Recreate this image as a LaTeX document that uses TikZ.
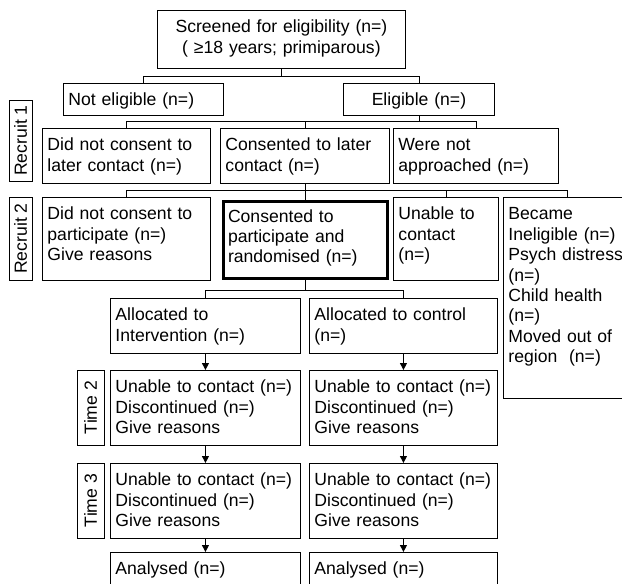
\documentclass[tikz,border=0pt]{standalone}
\usepackage{fontspec}
\setmainfont{Liberation Sans}
\usetikzlibrary{arrows.meta}
\begin{document}
\begin{tikzpicture}
	[x=1pt, y=-1pt, line width=0.9pt,
	font=\fontsize{17.6}{20.4}\selectfont,
	mybox/.style={draw, anchor=north west, align=left, inner xsep=5pt, inner ysep=0pt, text height=22.5pt},
	mylabel/.style={draw, rotate=90, inner sep=0pt},
	myarrow/.style={-{Triangle[length=7pt,width=7pt]}}]
	\useasboundingbox (0,0) rectangle (622,584);
	\clip (0,0) rectangle (622,584);
	\node[mybox,text width=238pt,text depth=35.5pt,align=center,name=scr] at (157,10) {Screened for eligibility (n=)\\( ≥18 years; primiparous)};
	\node[mybox,text width=150pt,text depth=9.5pt,name=nel] at (63,83) {Not eligible (n=)};
	\node[mybox,text width=141pt,text depth=9.5pt,align=center,name=el] at (343,83) {Eligible (n=)};
	\node[mylabel,minimum width=81pt,minimum height=23pt,name=r1] at (20.5,140.5) {Recruit 1};
	\node[mybox,text width=158pt,text depth=32.5pt,name=dnl] at (42,128) {Did not consent to\\later contact (n=)};
	\node[mybox,text width=159pt,text depth=32.5pt,name=cl] at (220,128) {Consented to later\\contact (n=)};
	\node[mybox,text width=155pt,text depth=32.5pt,name=wna] at (393,128) {Were not\\approached (n=)};
	\node[mylabel,minimum width=83pt,minimum height=23pt,name=r2] at (20.5,238.5) {Recruit 2};
	\node[mybox,text width=158pt,text depth=60.5pt,name=dnp] at (42,197) {Did not consent to\\participate (n=)\\Give reasons};
	\node[mybox,text width=154pt,text depth=56pt,text height=21pt,line width=3pt,name=cp] at (221.5,199.5) {Consented to\\participate and\\randomised (n=)};
	\node[mybox,text width=95pt,text depth=60.5pt,name=utc] at (393,197) {Unable to\\contact\\(n=)};
	\node[mybox,text width=118pt,text depth=178.5pt,name=bec] at (503,197) {Became\\Ineligible (n=)\\Psych distress\\(n=)\\Child health\\(n=)\\Moved out of\\region\ \ (n=)};
	\node[mybox,text width=180pt,text depth=32pt,name=ai] at (110,298) {Allocated to\\Intervention (n=)};
	\node[mybox,text width=178pt,text depth=32pt,name=ac] at (309,298) {Allocated to control\\(n=)};
	\node[mylabel,minimum width=75pt,minimum height=27pt,name=t2] at (90.5,407.5) {Time 2};
	\node[mybox,text width=180pt,text depth=52.5pt,name=t2i] at (110,370) {Unable to contact (n=)\\Discontinued (n=)\\Give reasons};
	\node[mybox,text width=178pt,text depth=52.5pt,name=t2c] at (309,370) {Unable to contact (n=)\\Discontinued (n=)\\Give reasons};
	\node[mylabel,minimum width=75pt,minimum height=27pt,name=t3] at (90.5,500.5) {Time 3};
	\node[mybox,text width=180pt,text depth=52.5pt,name=t3i] at (110,463) {Unable to contact (n=)\\Discontinued (n=)\\Give reasons};
	\node[mybox,text width=178pt,text depth=52.5pt,name=t3c] at (309,463) {Unable to contact (n=)\\Discontinued (n=)\\Give reasons};
	\node[mybox,text width=180pt,text depth=13.5pt,name=ani] at (110,552) {Analysed (n=)};
	\node[mybox,text width=178pt,text depth=13.5pt,name=anc] at (309,552) {Analysed (n=)};
	\draw (scr.south) -- ++(0,8) -| (nel.north);
	\draw (scr.south) -- ++(0,8) -| (el.north);
	\foreach \t in {dnl,cl,wna}
		\draw (el.south) -- ++(0,6) -| (\t.north);
	\foreach \t in {dnp,cp,utc,bec}
		\draw (cl.south) -- ++(0,7) -| (\t.north);
	\foreach \t in {ai,ac}
		\draw (cp.south) -- ++(0,11) -| (\t.north);
	\foreach \a/\b in {ai/t2i,ac/t2c,t2i/t3i,t2c/t3c,t3i/ani,t3c/anc}
		\draw[myarrow] (\a) -- (\b);
\end{tikzpicture}
\end{document}
